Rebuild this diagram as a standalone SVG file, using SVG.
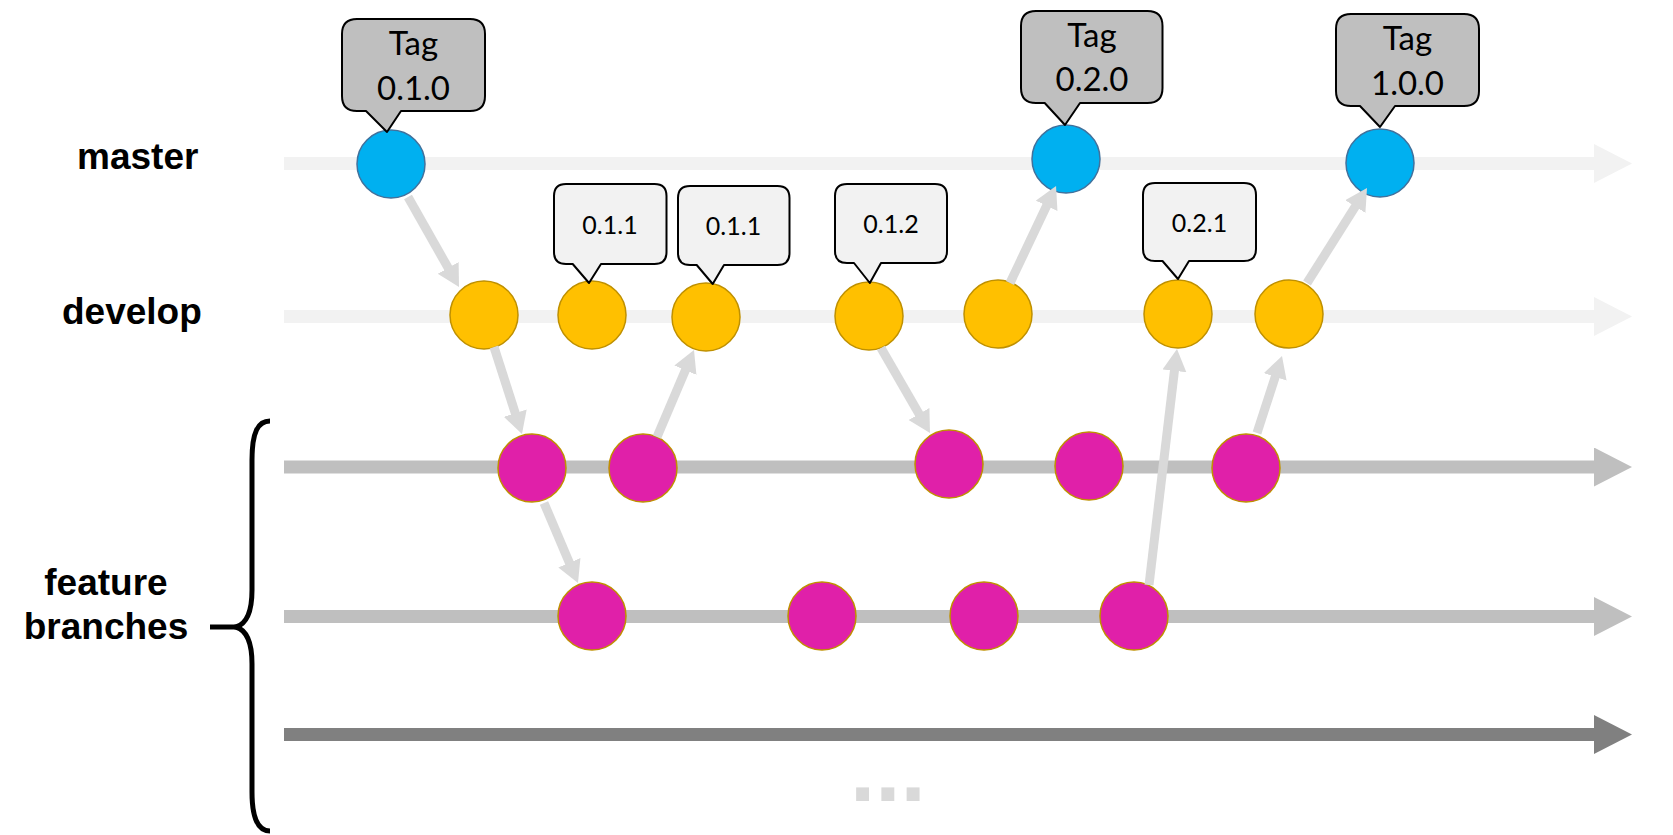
<svg xmlns="http://www.w3.org/2000/svg" width="1673" height="835" viewBox="0 0 1673 835">
<style>
.lbl{font-family:"Liberation Sans",Arial,sans-serif;font-weight:bold;font-size:37px;fill:#000}
.tagt{font-family:Lato,"Open Sans",sans-serif;font-size:33px;fill:#000;text-anchor:middle}
.vt{font-family:Lato,"Open Sans",sans-serif;font-size:25px;fill:#000;text-anchor:middle}
.tag{fill:#BFBFBF;stroke:#000;stroke-width:2;stroke-linejoin:round}
.ver{fill:#F2F2F2;stroke:#000;stroke-width:2;stroke-linejoin:round}
.m{fill:#00B0F0;stroke:#41719C;stroke-width:1.5}
.d{fill:#FFC000;stroke:#BF9000;stroke-width:1.5}
.f{fill:#E020A9;stroke:#BF9000;stroke-width:1.5}
.lane{fill:none;stroke-width:13}
.conn{fill:none;stroke:#D9D9D9;stroke-width:9;marker-end:url(#ah)}
.brace{fill:none;stroke:#000;stroke-width:5}
</style>
<defs>
<marker id="ah" markerUnits="userSpaceOnUse" markerWidth="24" markerHeight="26" refX="10" refY="12" orient="auto"><path d="M0,0 L22,12 L0,24 z" fill="#D9D9D9"/></marker>
<marker id="big1" markerUnits="userSpaceOnUse" markerWidth="40" markerHeight="40" refX="6" refY="19.5" orient="auto"><path d="M0,0 L38,19.5 L0,39 z" fill="#F2F2F2"/></marker>
<marker id="big2" markerUnits="userSpaceOnUse" markerWidth="40" markerHeight="40" refX="6" refY="19.5" orient="auto"><path d="M0,0 L38,19.5 L0,39 z" fill="#BFBFBF"/></marker>
<marker id="big3" markerUnits="userSpaceOnUse" markerWidth="40" markerHeight="40" refX="6" refY="19.5" orient="auto"><path d="M0,0 L38,19.5 L0,39 z" fill="#808080"/></marker>
</defs>
<rect width="1673" height="835" fill="#FFFFFF"/>

<g id="lanes">
<path class="lane" d="M284,163.5 L1600,163.5" stroke="#F2F2F2" marker-end="url(#big1)"/>
<path class="lane" d="M284,316.5 L1600,316.5" stroke="#F2F2F2" marker-end="url(#big1)"/>
<path class="lane" d="M284,467 L1600,467" stroke="#BFBFBF" marker-end="url(#big2)"/>
<path class="lane" d="M284,616.5 L1600,616.5" stroke="#BFBFBF" marker-end="url(#big2)"/>
<path class="lane" d="M284,734.5 L1600,734.5" stroke="#808080" marker-end="url(#big3)"/>
</g>

<g id="labels">
<text class="lbl" x="77" y="169">master</text>
<text class="lbl" x="62" y="324">develop</text>
<text class="lbl" x="106" y="595" text-anchor="middle">feature</text>
<text class="lbl" x="106" y="639" text-anchor="middle">branches</text>
<path class="brace" d="M270,421 C258,421 252,432 252,460 L252,590 C252,612 246,624 236,627 C246,630 252,642 252,664 L252,792 C252,818 258,831 270,831"/>
<path class="brace" d="M210,627 L238,627"/>
<text x="850" y="800.7" font-family="Liberation Sans,Arial,sans-serif" font-weight="bold" font-size="91" fill="#D9D9D9">...</text>
</g>

<g id="master-commits">
<circle id="m1" class="m" cx="391" cy="164" r="34"/>
<circle id="m2" class="m" cx="1066" cy="159" r="34"/>
<circle id="m3" class="m" cx="1380" cy="163" r="34"/>
</g>
<g id="develop-commits">
<circle id="d1" class="d" cx="484" cy="315" r="34"/>
<circle id="d2" class="d" cx="592" cy="315" r="34"/>
<circle id="d3" class="d" cx="706" cy="317" r="34"/>
<circle id="d4" class="d" cx="869" cy="316" r="34"/>
<circle id="d5" class="d" cx="998" cy="314" r="34"/>
<circle id="d6" class="d" cx="1178" cy="314" r="34"/>
<circle id="d7" class="d" cx="1289" cy="314" r="34"/>
</g>
<g id="feature-commits">
<circle id="f1" class="f" cx="532" cy="468" r="34"/>
<circle id="f2" class="f" cx="643" cy="468" r="34"/>
<circle id="f3" class="f" cx="949" cy="464" r="34"/>
<circle id="f4" class="f" cx="1089" cy="466" r="34"/>
<circle id="f5" class="f" cx="1246" cy="468" r="34"/>
<circle id="g1" class="f" cx="592" cy="616" r="34"/>
<circle id="g2" class="f" cx="822" cy="616" r="34"/>
<circle id="g3" class="f" cx="984" cy="616" r="34"/>
<circle id="g4" class="f" cx="1134" cy="616" r="34"/>
</g>

<g id="connectors">
<path class="conn" d="M408,197 L453.1,276.6"/>
<path class="conn" d="M494,347 L518.3,422.6"/>
<path class="conn" d="M544,503 L573.3,571.9"/>
<path class="conn" d="M657,437 L689.3,361"/>
<path class="conn" d="M881,348 L924,422.6"/>
<path class="conn" d="M1010,283 L1050.9,196.8"/>
<path class="conn" d="M1149,585 L1175.6,360.9"/>
<path class="conn" d="M1257,433 L1278.3,367.4"/>
<path class="conn" d="M1307,283 L1360.6,198.1"/>
</g>

<g id="tag-010">
<path class="tag" d="M357,19 L470,19 Q485,19 485,34 L485,96 Q485,111 470,111 L401,111 L387,132 L366,111 L357,111 Q342,111 342,96 L342,34 Q342,19 357,19 Z"/>
<text class="tagt" x="413.5" y="54.5">Tag</text>
<text class="tagt" x="413.5" y="99.5">0.1.0</text>
</g>
<g id="tag-020">
<path class="tag" d="M1036,11 L1147.5,11 Q1162.5,11 1162.5,26 L1162.5,88 Q1162.5,103 1147.5,103 L1080,103 L1065,125 L1044.7,103 L1036,103 Q1021,103 1021,88 L1021,26 Q1021,11 1036,11 Z"/>
<text class="tagt" x="1092" y="46.7">Tag</text>
<text class="tagt" x="1092" y="91">0.2.0</text>
</g>
<g id="tag-100">
<path class="tag" d="M1351,14 L1464,14 Q1479,14 1479,29 L1479,91 Q1479,106 1464,106 L1395,106 L1380,127 L1360,106 L1351,106 Q1336,106 1336,91 L1336,29 Q1336,14 1351,14 Z"/>
<text class="tagt" x="1407.5" y="50">Tag</text>
<text class="tagt" x="1407.5" y="94.5">1.0.0</text>
</g>

<g id="ver-011a">
<path class="ver" d="M566,184 L654.5,184 Q666.5,184 666.5,196 L666.5,252 Q666.5,264 654.5,264 L601,264 L589,283 L572.7,264 L566,264 Q554,264 554,252 L554,196 Q554,184 566,184 Z"/>
<text class="vt" x="610" y="234">0.1.1</text>
</g>
<g id="ver-011b">
<path class="ver" d="M690,186 L777.5,186 Q789.5,186 789.5,198 L789.5,253 Q789.5,265 777.5,265 L724,265 L712.7,284 L696.7,265 L690,265 Q678,265 678,253 L678,198 Q678,186 690,186 Z"/>
<text class="vt" x="733.5" y="235">0.1.1</text>
</g>
<g id="ver-012">
<path class="ver" d="M847,184 L935,184 Q947,184 947,196 L947,251 Q947,263 935,263 L881,263 L869.8,283 L854,263 L847,263 Q835,263 835,251 L835,196 Q835,184 847,184 Z"/>
<text class="vt" x="891" y="232.5">0.1.2</text>
</g>
<g id="ver-021">
<path class="ver" d="M1155,183 L1244,183 Q1256,183 1256,195 L1256,249 Q1256,261 1244,261 L1189,261 L1178,279 L1162.5,261 L1155,261 Q1143,261 1143,249 L1143,195 Q1143,183 1155,183 Z"/>
<text class="vt" x="1199.5" y="232">0.2.1</text>
</g>
</svg>
